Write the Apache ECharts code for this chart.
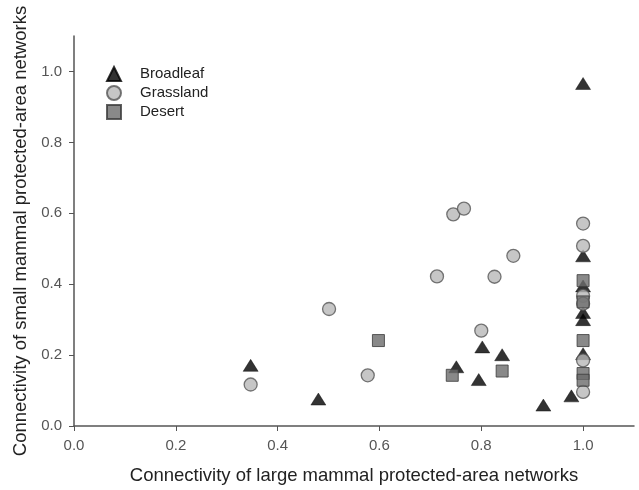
<!DOCTYPE html>
<html>
<head>
<meta charset="utf-8">
<script src="https://cdn.jsdelivr.net/npm/echarts@6/dist/echarts.min.js"></script>
<style>
  html, body { margin: 0; padding: 0; background: #fff; }
  #chart { width: 639px; height: 490px; }
</style>
</head>
<body>
<div id="chart"></div>
<script>
// values: [large mammal, small mammal]
const broadleaf = [
  [0.347, 0.171], [0.48, 0.076], [0.751, 0.167], [0.795, 0.131],
  [0.802, 0.223], [0.841, 0.201], [0.922, 0.059], [0.977, 0.085],
  [1.0, 0.966], [1.0, 0.48], [1.0, 0.395], [1.0, 0.32],
  [1.0, 0.30], [1.0, 0.204]
];
const grassland = [
  [0.347, 0.117], [0.501, 0.33], [0.577, 0.143], [0.713, 0.422],
  [0.745, 0.597], [0.766, 0.613], [0.80, 0.269], [0.826, 0.421],
  [0.863, 0.48], [1.0, 0.571], [1.0, 0.508], [1.0, 0.367],
  [1.0, 0.345], [1.0, 0.185], [1.0, 0.096]
];
const desert = [
  [0.598, 0.241], [0.743, 0.143], [0.841, 0.155], [1.0, 0.41],
  [1.0, 0.35], [1.0, 0.241], [1.0, 0.148], [1.0, 0.129]
];
const tickValues = [0, 0.2, 0.4, 0.6, 0.8, 1.0];

const chart = echarts.init(document.getElementById('chart'), null, { renderer: 'canvas' });

const font = 'Liberation Sans, Arial, sans-serif';

const axisCommon = {
  type: 'value',
  min: 0,
  max: 1.1,
  interval: 0.2,
  splitLine: { show: false },
  axisLine: { show: true, onZero: false, lineStyle: { color: '#555', width: 1.5 } },
  axisTick: { show: true, inside: false, length: 5, customValues: tickValues, lineStyle: { color: '#555' } },
  axisLabel: {
    customValues: tickValues,
    color: '#555',
    fontSize: 15,
    margin: 12,
    fontFamily: font,
    formatter: v => v.toFixed(1)
  },
  nameLocation: 'middle',
  nameTextStyle: { color: '#222', fontSize: 18.5, fontFamily: font }
};

const option = {
  animation: false,
  backgroundColor: '#fff',
  grid: { left: 74, right: 5, top: 36, bottom: 62, containLabel: false },
  legend: {
    orient: 'vertical',
    left: 101,
    top: 61,
    itemWidth: 14,
    itemHeight: 14,
    itemGap: 3,
    textStyle: { color: '#222', fontSize: 15, fontFamily: font, padding: [0, 0, 0, 14] },
    data: ['Broadleaf', 'Grassland', 'Desert']
  },
  xAxis: Object.assign({}, axisCommon, {
    name: 'Connectivity of large mammal protected-area networks',
    nameGap: 40
  }),
  yAxis: Object.assign({}, axisCommon, {
    name: 'Connectivity of small mammal protected-area networks',
    nameGap: 44
  }),
  series: [
    {
      name: 'Broadleaf',
      type: 'scatter',
      symbol: 'triangle',
      symbolSize: [15, 12],
      itemStyle: { color: '#000', borderColor: '#000', borderWidth: 0.5 },
      data: broadleaf
    },
    {
      name: 'Grassland',
      type: 'scatter',
      symbol: 'circle',
      symbolSize: 13,
      itemStyle: { color: '#b8b8b8', borderColor: '#555', borderWidth: 1.3 },
      data: grassland
    },
    {
      name: 'Desert',
      type: 'scatter',
      symbol: 'rect',
      symbolSize: 12,
      itemStyle: { color: '#6b6b6b', borderColor: '#3a3a3a', borderWidth: 1 },
      data: desert
    }
  ]
};

chart.setOption(option);
</script>
</body>
</html>
